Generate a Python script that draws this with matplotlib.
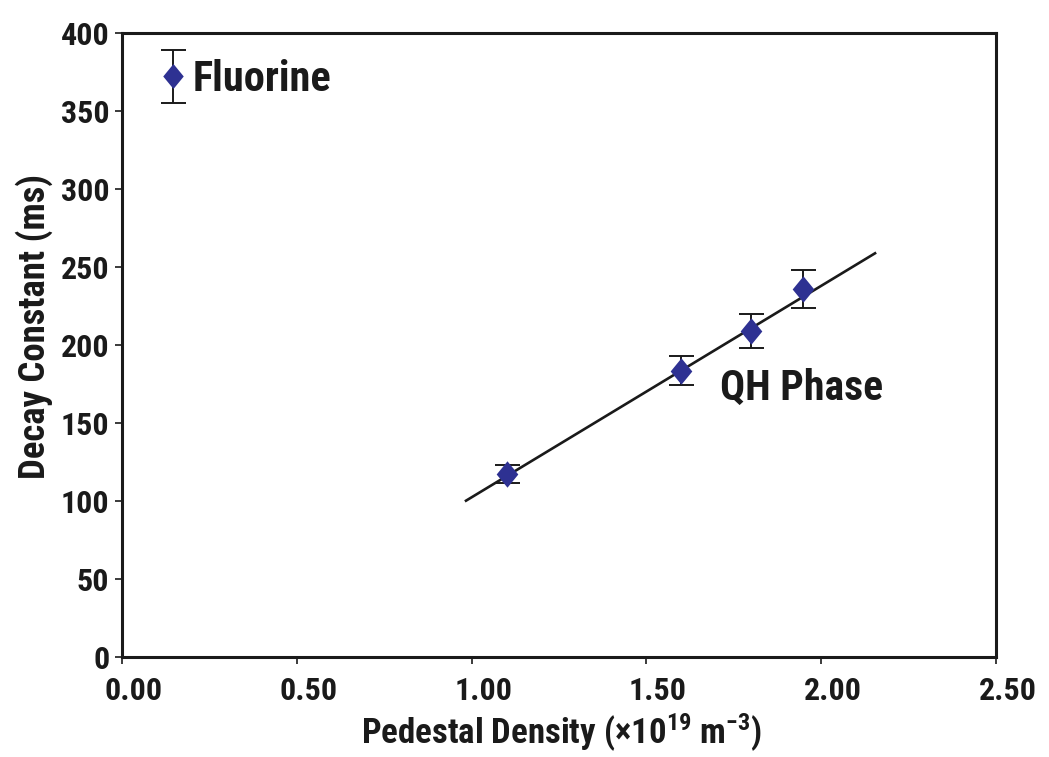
import matplotlib
matplotlib.use("Agg")
import matplotlib.pyplot as plt
import matplotlib.transforms as mtransforms
from matplotlib.lines import Line2D
from matplotlib.container import ErrorbarContainer
from matplotlib.legend_handler import HandlerErrorbar

FONT = ['Roboto Condensed', 'DejaVu Sans']
plt.rcParams['font.family'] = FONT
plt.rcParams['font.weight'] = 'bold'
plt.rcParams['mathtext.fontset'] = 'custom'
plt.rcParams['mathtext.rm'] = 'Roboto Condensed:bold'
plt.rcParams['mathtext.it'] = 'Roboto Condensed:bold'
plt.rcParams['mathtext.bf'] = 'Roboto Condensed:bold'

# QH phase measurements
density = [1.10, 1.598, 1.80, 1.947]
decay = [117.3, 183.5, 209.0, 235.8]
decay_err = [5.9, 9.4, 10.8, 12.1]

# Linear fit endpoints
fit_x = [0.984, 2.154]
fit_y = [100.2, 258.8]

xticks = [0.0, 0.5, 1.0, 1.5, 2.0, 2.5]
xticklabels = ['0.00', '0.50', '1.00', '1.50', '2.00', '2.50']
yticks = [0, 50, 100, 150, 200, 250, 300, 350, 400]

blue = '#2E3192'
ink = '#1a1a1a'
diamond = [(0, 1), (0.82, 0), (0, -1), (-0.82, 0), (0, 1)]

fig = plt.figure(figsize=(10.49, 7.57), dpi=100)
ax = fig.add_axes([122/1049, 1-657/757, 874/1049, 624/757])

ax.plot(fit_x, fit_y, color=ink, lw=1.9, zorder=2)
eb = ax.errorbar(density, decay, yerr=decay_err, fmt='none', ecolor=ink,
                 elinewidth=1.4, capsize=9, capthick=1.4, zorder=3)
ax.plot(density, decay, linestyle='none', marker=diamond, markersize=19,
        color=blue, markeredgewidth=0, zorder=4)

# legend entry (marker with error bar)
ln = Line2D([], [], linestyle='none', marker=diamond, markersize=18, color=blue,
            markeredgewidth=0)
cont = ErrorbarContainer((ln, eb.lines[1], eb.lines[2]), has_xerr=False, has_yerr=True,
                         label='Fluorine')
leg = ax.legend(handles=[cont], labels=['Fluorine'], loc='center left',
                bbox_to_anchor=(0.044, 0.925), frameon=False,
                prop={'family': FONT, 'weight': 'bold', 'size': 30.5},
                handlelength=0.57, handletextpad=0.19, borderpad=0, borderaxespad=0,
                handler_map={ErrorbarContainer: HandlerErrorbar(yerr_size=0.63)})
for t in leg.get_texts():
    t.set_color(ink)

ax.text(1.71, 165, 'QH Phase', fontsize=30, fontweight='bold', color=ink,
        ha='left', va='baseline')

ax.set_xlim(0, 2.5)
ax.set_ylim(0, 400)
ax.set_xticks(xticks)
ax.set_xticklabels(xticklabels)
ax.set_yticks(yticks)
ax.tick_params(axis='both', direction='out', length=5, width=1.2,
               labelsize=23, colors=ink, labelcolor=ink)
ax.tick_params(axis='x', pad=9)
ax.tick_params(axis='y', pad=4)
shift = mtransforms.ScaledTranslation(0.115, 0, fig.dpi_scale_trans)
for lab in ax.get_xticklabels():
    lab.set_transform(lab.get_transform() + shift)
for lab in ax.get_xticklabels() + ax.get_yticklabels():
    lab.set_fontweight('bold')
for s in ax.spines.values():
    s.set_linewidth(2.2)
    s.set_color(ink)

ax.set_xlabel('Pedestal Density (\u00d710$^{19}$ m$^{-3}$)', fontsize=25,
              fontweight='bold', color=ink)
ax.set_ylabel('Decay Constant (ms)', fontsize=26.5, fontweight='bold', color=ink)
ax.xaxis.set_label_coords(0.503, -0.088)
ax.yaxis.set_label_coords(-0.079, 0.529)

fig.savefig('out.png', dpi=100)
